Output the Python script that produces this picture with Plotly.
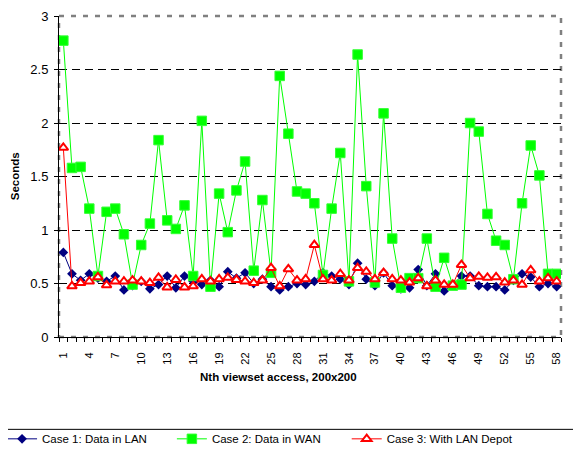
import plotly.graph_objects as go

access_n = list(range(1, 59))
x_tick_labels = [str(v) for v in range(1, 59, 3)]
x_tick_vals = list(range(1, 59, 3))

case1_lan = [0.79, 0.59, 0.53, 0.59, 0.55, 0.52, 0.57, 0.44, 0.48, 0.52,
             0.45, 0.49, 0.57, 0.46, 0.57, 0.52, 0.49, 0.53, 0.47, 0.61,
             0.55, 0.60, 0.50, 0.54, 0.47, 0.44, 0.47, 0.50, 0.49, 0.52,
             0.60, 0.57, 0.54, 0.49, 0.69, 0.54, 0.48, 0.60, 0.48, 0.45,
             0.46, 0.63, 0.48, 0.59, 0.43, 0.49, 0.57, 0.57, 0.48, 0.47,
             0.47, 0.44, 0.53, 0.59, 0.56, 0.47, 0.50, 0.47]
case2_wan = [2.77, 1.58, 1.59, 1.20, 0.57, 1.17, 1.20, 0.96, 0.49, 0.86,
             1.06, 1.84, 1.09, 1.01, 1.23, 0.57, 2.02, 0.47, 1.34, 0.98,
             1.37, 1.64, 0.62, 1.28, 0.60, 2.44, 1.90, 1.36, 1.34, 1.25,
             0.58, 1.20, 1.72, 0.52, 2.64, 1.41, 0.51, 2.09, 0.92, 0.46,
             0.55, 0.55, 0.92, 0.47, 0.74, 0.48, 0.49, 2.00, 1.92, 1.15,
             0.90, 0.86, 0.54, 1.25, 1.79, 1.51, 0.59, 0.59]
case3_depot = [1.77, 0.475, 0.505, 0.52, 0.56, 0.485, 0.52, 0.52, 0.53, 0.52,
               0.505, 0.555, 0.465, 0.535, 0.465, 0.475, 0.54, 0.52, 0.54, 0.555,
               0.535, 0.52, 0.505, 0.53, 0.645, 0.475, 0.635, 0.53, 0.54, 0.86,
               0.54, 0.53, 0.59, 0.53, 0.645, 0.61, 0.54, 0.60, 0.54, 0.53,
               0.51, 0.55, 0.475, 0.53, 0.49, 0.49, 0.675, 0.55, 0.565, 0.555,
               0.56, 0.51, 0.53, 0.49, 0.625, 0.52, 0.55, 0.52]

names = ["Case 1: Data in LAN", "Case 2: Data in WAN", "Case 3: With LAN Depot"]

FONT = "Liberation Sans, Arial, sans-serif"
OFF = 8  # default page body margin
W, H = 581 - OFF, 458 - OFF
L, T = 59 - OFF, 15.5 - OFF
pw, ph = 502.5, 321.5
R = W - L - pw
B = H - T - ph


def px_x(X):
    return (X - OFF - L) / pw


def px_y(Y):
    return (T + ph - (Y - OFF)) / ph


fig = go.Figure()
fig.add_trace(go.Scatter(
    x=access_n, y=case1_lan, name=names[0], mode="lines+markers",
    line=dict(color="#000080", width=1),
    marker=dict(symbol="diamond", size=7.5, color="#000080"),
    legend="legend"))
fig.add_trace(go.Scatter(
    x=access_n, y=case2_wan, name=names[1], mode="lines+markers",
    line=dict(color="#00FF00", width=1),
    marker=dict(symbol="square", size=9.5, color="#00FF00",
                line=dict(color="#33FF33", width=1)),
    legend="legend2"))
fig.add_trace(go.Scatter(
    x=access_n, y=case3_depot, name=names[2], mode="lines+markers",
    line=dict(color="#FF0000", width=1),
    marker=dict(symbol="triangle-up", size=8.5, color="white",
                line=dict(color="#FF0000", width=2)),
    legend="legend3"))

legend_common = dict(orientation="h", yanchor="middle", xanchor="left",
                     font=dict(family=FONT, size=11.5, color="black"),
                     bgcolor="rgba(0,0,0,0)", borderwidth=0)
fig.update_layout(
    legend=dict(x=px_x(2), y=px_y(439), **legend_common),
    legend2=dict(x=px_x(172), y=px_y(439), **legend_common),
    legend3=dict(x=px_x(347), y=px_y(439), **legend_common),
)

fig.update_layout(
    width=W, height=H,
    margin=dict(l=L, r=R, t=T, b=B, pad=0, autoexpand=False),
    paper_bgcolor="white", plot_bgcolor="white",
    font=dict(family=FONT, color="black"),
    showlegend=True,
    xaxis=dict(
        range=[0.5, 58.5], tickmode="array", tickvals=x_tick_vals,
        ticktext=x_tick_labels, tickangle=-90,
        tickfont=dict(family=FONT, size=11, color="black"),
        ticks="outside", ticklen=0, showgrid=False, zeroline=False,
        showline=True, linecolor="black", linewidth=1,
        ticklabelstandoff=10, automargin=False,
        minor=dict(tick0=0.5, dtick=1, ticks="outside", ticklen=4,
                   tickcolor="black", tickwidth=1, showgrid=False),
    ),
    yaxis=dict(
        range=[0, 3], tickmode="array", tickvals=[0, 0.5, 1, 1.5, 2, 2.5, 3],
        ticktext=["0", "0.5", "1", "1.5", "2", "2.5", "3"],
        tickfont=dict(family=FONT, size=13, color="black"),
        ticks="outside", ticklen=4, tickcolor="black",
        showgrid=False, zeroline=False, automargin=False,
        ticklabelstandoff=3,
        showline=True, linecolor="black", linewidth=1,
    ),
    yaxis2=dict(
        range=[0, 3], overlaying="y", tickmode="array",
        tickvals=[0.5, 1, 1.5, 2, 2.5], showticklabels=False, ticks="",
        showgrid=True, gridcolor="black", gridwidth=1, griddash="8px,5px",
        zeroline=False, showline=False, automargin=False,
    ),
    shapes=[
        dict(type="rect", xref="paper", yref="paper", x0=0, x1=1, y0=0, y1=1,
             line=dict(color="#808080", width=2.5, dash="5px,7px"),
             layer="below"),
        dict(type="line", xref="paper", yref="paper",
             x0=px_x(-5), x1=px_x(600), y0=px_y(429.5), y1=px_y(429.5),
             line=dict(color="black", width=1)),
    ],
    annotations=[
        dict(text="<b>Seconds</b>", xref="paper", yref="paper",
             x=px_x(15), y=px_y(176), textangle=-90, showarrow=False,
             xanchor="center", yanchor="middle",
             font=dict(family=FONT, size=11.5, color="black")),
        dict(text="<b>Nth viewset access, 200x200</b>", xref="paper",
             yref="paper", x=px_x(279), y=px_y(377), showarrow=False,
             xanchor="center", yanchor="middle",
             font=dict(family=FONT, size=11.5, color="black")),
    ],
)

# invisible trace so the overlay axis (gridlines only) is drawn
fig.add_trace(go.Scatter(x=[1], y=[0], yaxis="y2", mode="markers",
                         marker=dict(opacity=0), showlegend=False,
                         hoverinfo="skip"))

fig.write_html("out.html")
